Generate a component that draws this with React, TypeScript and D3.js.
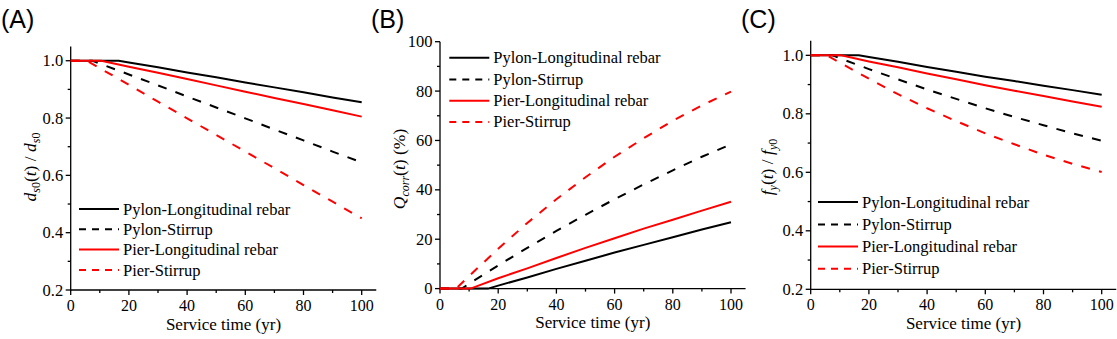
import React from "react";
import * as d3 from "d3";

// ---------- data ----------
const seriesNames = [
  "Pylon-Longitudinal rebar",
  "Pylon-Stirrup",
  "Pier-Longitudinal rebar",
  "Pier-Stirrup",
];
const seriesColors = ["#000000", "#000000", "#ff0000", "#ff0000"];
const seriesDashed = [false, true, false, true];

const tPylonLong = [0, 16.5, 20, 30, 40, 50, 60, 70, 80, 90, 100];
const tPylonStirrup = [0, 7.5, 10, 20, 30, 40, 50, 60, 70, 80, 90, 100];
const tPierLong = [0, 10.5, 20, 30, 40, 50, 60, 70, 80, 90, 100];
const tPierStirrup = [0, 5.5, 10, 20, 30, 40, 50, 60, 70, 80, 90, 100];

// (A) d_s0(t)/d_s0
const dPylonLong = [1, 1, 0.994, 0.977, 0.959, 0.942, 0.924, 0.907, 0.89, 0.872, 0.855];
const dPylonStirrup = [1, 1, 0.99, 0.952, 0.914, 0.875, 0.837, 0.799, 0.76, 0.722, 0.683, 0.645];
const dPierLong = [1, 1, 0.979, 0.958, 0.936, 0.914, 0.892, 0.87, 0.849, 0.827, 0.805];
const dPierStirrup = [1, 1, 0.974, 0.916, 0.857, 0.799, 0.741, 0.683, 0.625, 0.566, 0.508, 0.45];

// (B) Q_corr(t) (%)
const qPylonLong = [0, 0, 1.2, 4.5, 8.0, 11.3, 14.6, 17.7, 20.8, 23.9, 26.9];
const qPylonStirrup = [0, 0, 2.0, 9.4, 16.5, 23.4, 29.9, 36.2, 42.2, 47.9, 53.4, 58.4];
const qPierLong = [0, 0, 4.2, 8.2, 12.4, 16.5, 20.4, 24.3, 27.9, 31.6, 35.2];
const qPierStirrup = [0, 0, 5.1, 16.1, 26.6, 36.2, 45.1, 53.4, 60.9, 68.0, 74.2, 79.8];

// (C) f_y(t)/f_y0
const fPylonLong = [1, 1, 0.994, 0.978, 0.96, 0.944, 0.927, 0.912, 0.896, 0.881, 0.865];
const fPylonStirrup = [1, 1, 0.99, 0.953, 0.918, 0.883, 0.851, 0.819, 0.789, 0.761, 0.733, 0.708];
const fPierLong = [1, 1, 0.979, 0.959, 0.938, 0.918, 0.898, 0.879, 0.861, 0.842, 0.824];
const fPierStirrup = [1, 1, 0.975, 0.92, 0.867, 0.819, 0.775, 0.733, 0.696, 0.66, 0.629, 0.601];

const seriesTimes = [tPylonLong, tPylonStirrup, tPierLong, tPierStirrup];

const xTicks = [0, 20, 40, 60, 80, 100];
const xMinorTicks = [10, 30, 50, 70, 90];
const ratioTicks = [0.2, 0.4, 0.6, 0.8, 1.0];
const ratioMinorTicks = [0.3, 0.5, 0.7, 0.9];
const percentTicks = [0, 20, 40, 60, 80, 100];
const percentMinorTicks = [10, 30, 50, 70, 90];

const xTitle = "Service time (yr)";

// ---------- styling ----------
const SERIF = "Liberation Serif, Times New Roman, serif";
const SANS = "Liberation Sans, Arial, sans-serif";

type PanelCfg = {
  label: string;
  labelX: number;
  x0: number;
  x100: number;
  yDomain: [number, number];
  yRange: [number, number];
  yTicks: number[];
  yMinor: number[];
  fmt: (v: number) => string;
  values: number[][];
  legendX: number;
  legendY: number[];
  titleX: number;
  titleY: number;
  title: React.ReactNode;
};

const sub = (s: string, italic = false, dy = 0) => (
  <tspan fontSize={12} dy={dy} fontStyle={italic ? "italic" : "normal"}>
    {s}
  </tspan>
);

const titleA = (
  <>
    <tspan fontStyle="italic">d</tspan>
    {sub("s", true, 4)}
    {sub("0")}
    <tspan dy={-4}>(</tspan>
    <tspan fontStyle="italic">t</tspan>
    <tspan>) / </tspan>
    <tspan fontStyle="italic">d</tspan>
    {sub("s", true, 4)}
    {sub("0")}
  </>
);
const titleB = (
  <>
    <tspan fontStyle="italic">Q</tspan>
    {sub("corr", true, 4)}
    <tspan dy={-4}>(</tspan>
    <tspan fontStyle="italic">t</tspan>
    <tspan>) (%)</tspan>
  </>
);
const titleC = (
  <>
    <tspan fontStyle="italic">f</tspan>
    {sub("y", true, 4)}
    <tspan dy={-4}>(</tspan>
    <tspan fontStyle="italic">t</tspan>
    <tspan>) / </tspan>
    <tspan fontStyle="italic">f</tspan>
    {sub("y", true, 4)}
    {sub("0")}
  </>
);

const panels: PanelCfg[] = [
  {
    label: "(A)",
    labelX: 1,
    x0: 70.7,
    x100: 361.7,
    yDomain: [0.2, 1.05],
    yRange: [290, 46.4],
    yTicks: ratioTicks,
    yMinor: ratioMinorTicks,
    fmt: (v) => v.toFixed(1),
    values: [dPylonLong, dPylonStirrup, dPierLong, dPierStirrup],
    legendX: 79,
    legendY: [209, 229.3, 249.6, 270],
    titleX: 36,
    titleY: 167,
    title: titleA,
  },
  {
    label: "(B)",
    labelX: 371,
    x0: 440,
    x100: 731,
    yDomain: [0, 100],
    yRange: [288.6, 41.7],
    yTicks: percentTicks,
    yMinor: percentMinorTicks,
    fmt: (v) => String(v),
    values: [qPylonLong, qPylonStirrup, qPierLong, qPierStirrup],
    legendX: 449.3,
    legendY: [57.7, 79.5, 100.7, 121.9],
    titleX: 405,
    titleY: 169,
    title: titleB,
  },
  {
    label: "(C)",
    labelX: 741,
    x0: 810.7,
    x100: 1101.7,
    yDomain: [0.2, 1.05],
    yRange: [289.3, 40.7],
    yTicks: ratioTicks,
    yMinor: ratioMinorTicks,
    fmt: (v) => v.toFixed(1),
    values: [fPylonLong, fPylonStirrup, fPierLong, fPierStirrup],
    legendX: 818,
    legendY: [202, 224.5, 246.6, 268.7],
    titleX: 773,
    titleY: 167,
    title: titleC,
  },
];

function Panel({ p }: { p: PanelCfg }) {
  const x = d3.scaleLinear().domain([0, 100]).range([p.x0, p.x100]);
  const y = d3.scaleLinear().domain(p.yDomain).range(p.yRange);
  const yBottom = y(p.yDomain[0]);
  const yTop = y(p.yDomain[1]);
  const xLeft = x(0);
  const xRight = x(105);
  const line = d3
    .line<[number, number]>()
    .x((d) => x(d[0]))
    .y((d) => y(d[1]));
  const axisStroke = 1.3;

  return (
    <g>
      <text x={p.labelX} y={28} fontFamily={SANS} fontSize={25} fill="#000">
        {p.label}
      </text>

      {/* axes */}
      <line x1={xLeft} x2={xLeft} y1={yBottom + 0.6} y2={yTop} stroke="#000" strokeWidth={axisStroke} />
      <line x1={xLeft - 0.6} x2={xRight} y1={yBottom} y2={yBottom} stroke="#000" strokeWidth={axisStroke} />

      {xTicks.map((t) => (
        <g key={"xt" + t}>
          <line x1={x(t)} x2={x(t)} y1={yBottom} y2={yBottom + 5} stroke="#000" strokeWidth={axisStroke} />
          <text x={x(t)} y={yBottom + 21} textAnchor="middle" fontFamily={SERIF} fontSize={16} fill="#000">
            {t}
          </text>
        </g>
      ))}
      {xMinorTicks.map((t) => (
        <line key={"xm" + t} x1={x(t)} x2={x(t)} y1={yBottom} y2={yBottom + 3} stroke="#000" strokeWidth={axisStroke} />
      ))}
      {p.yTicks.map((v) => (
        <g key={"yt" + v}>
          <line x1={xLeft - 5} x2={xLeft} y1={y(v)} y2={y(v)} stroke="#000" strokeWidth={axisStroke} />
          <text x={xLeft - 7.5} y={y(v) + 5.5} textAnchor="end" fontFamily={SERIF} fontSize={16.5} fill="#000">
            {p.fmt(v)}
          </text>
        </g>
      ))}
      {p.yMinor.map((v) => (
        <line key={"ym" + v} x1={xLeft - 3} x2={xLeft} y1={y(v)} y2={y(v)} stroke="#000" strokeWidth={axisStroke} />
      ))}

      <text
        x={(xLeft + xRight) / 2}
        y={yBottom + 39.5}
        textAnchor="middle"
        fontFamily={SERIF}
        fontSize={17}
        fill="#000"
      >
        {xTitle}
      </text>

      <text
        transform={`translate(${p.titleX},${p.titleY}) rotate(-90)`}
        textAnchor="middle"
        fontFamily={SERIF}
        fontSize={17.5}
        fill="#000"
      >
        {p.title}
      </text>

      {/* series */}
      {p.values.map((vals, i) => {
        const pts: [number, number][] = seriesTimes[i].map((t, k) => [t, vals[k]]);
        return (
          <path
            key={"s" + i}
            d={line(pts) || ""}
            fill="none"
            stroke={seriesColors[i]}
            strokeWidth={2}
            strokeDasharray={seriesDashed[i] ? "9,9.4" : undefined}
          />
        );
      })}

      {/* legend */}
      {seriesNames.map((name, i) => (
        <g key={"lg" + i}>
          <line
            x1={p.legendX}
            x2={p.legendX + 40}
            y1={p.legendY[i]}
            y2={p.legendY[i]}
            stroke={seriesColors[i]}
            strokeWidth={2}
            strokeDasharray={seriesDashed[i] ? "7,6" : undefined}
          />
          <text x={p.legendX + 44} y={p.legendY[i] + 5.5} fontFamily={SERIF} fontSize={16.5} fill="#000">
            {name}
          </text>
        </g>
      ))}
    </g>
  );
}

export default function App() {
  return (
    <svg
      width={1117}
      height={339}
      viewBox="0 0 1117 339"
      style={{ position: "absolute", left: 0, top: 0, background: "#fff" }}
    >
      <rect x={0} y={0} width={1117} height={339} fill="#fff" />
      {panels.map((p) => (
        <Panel key={p.label} p={p} />
      ))}
    </svg>
  );
}
